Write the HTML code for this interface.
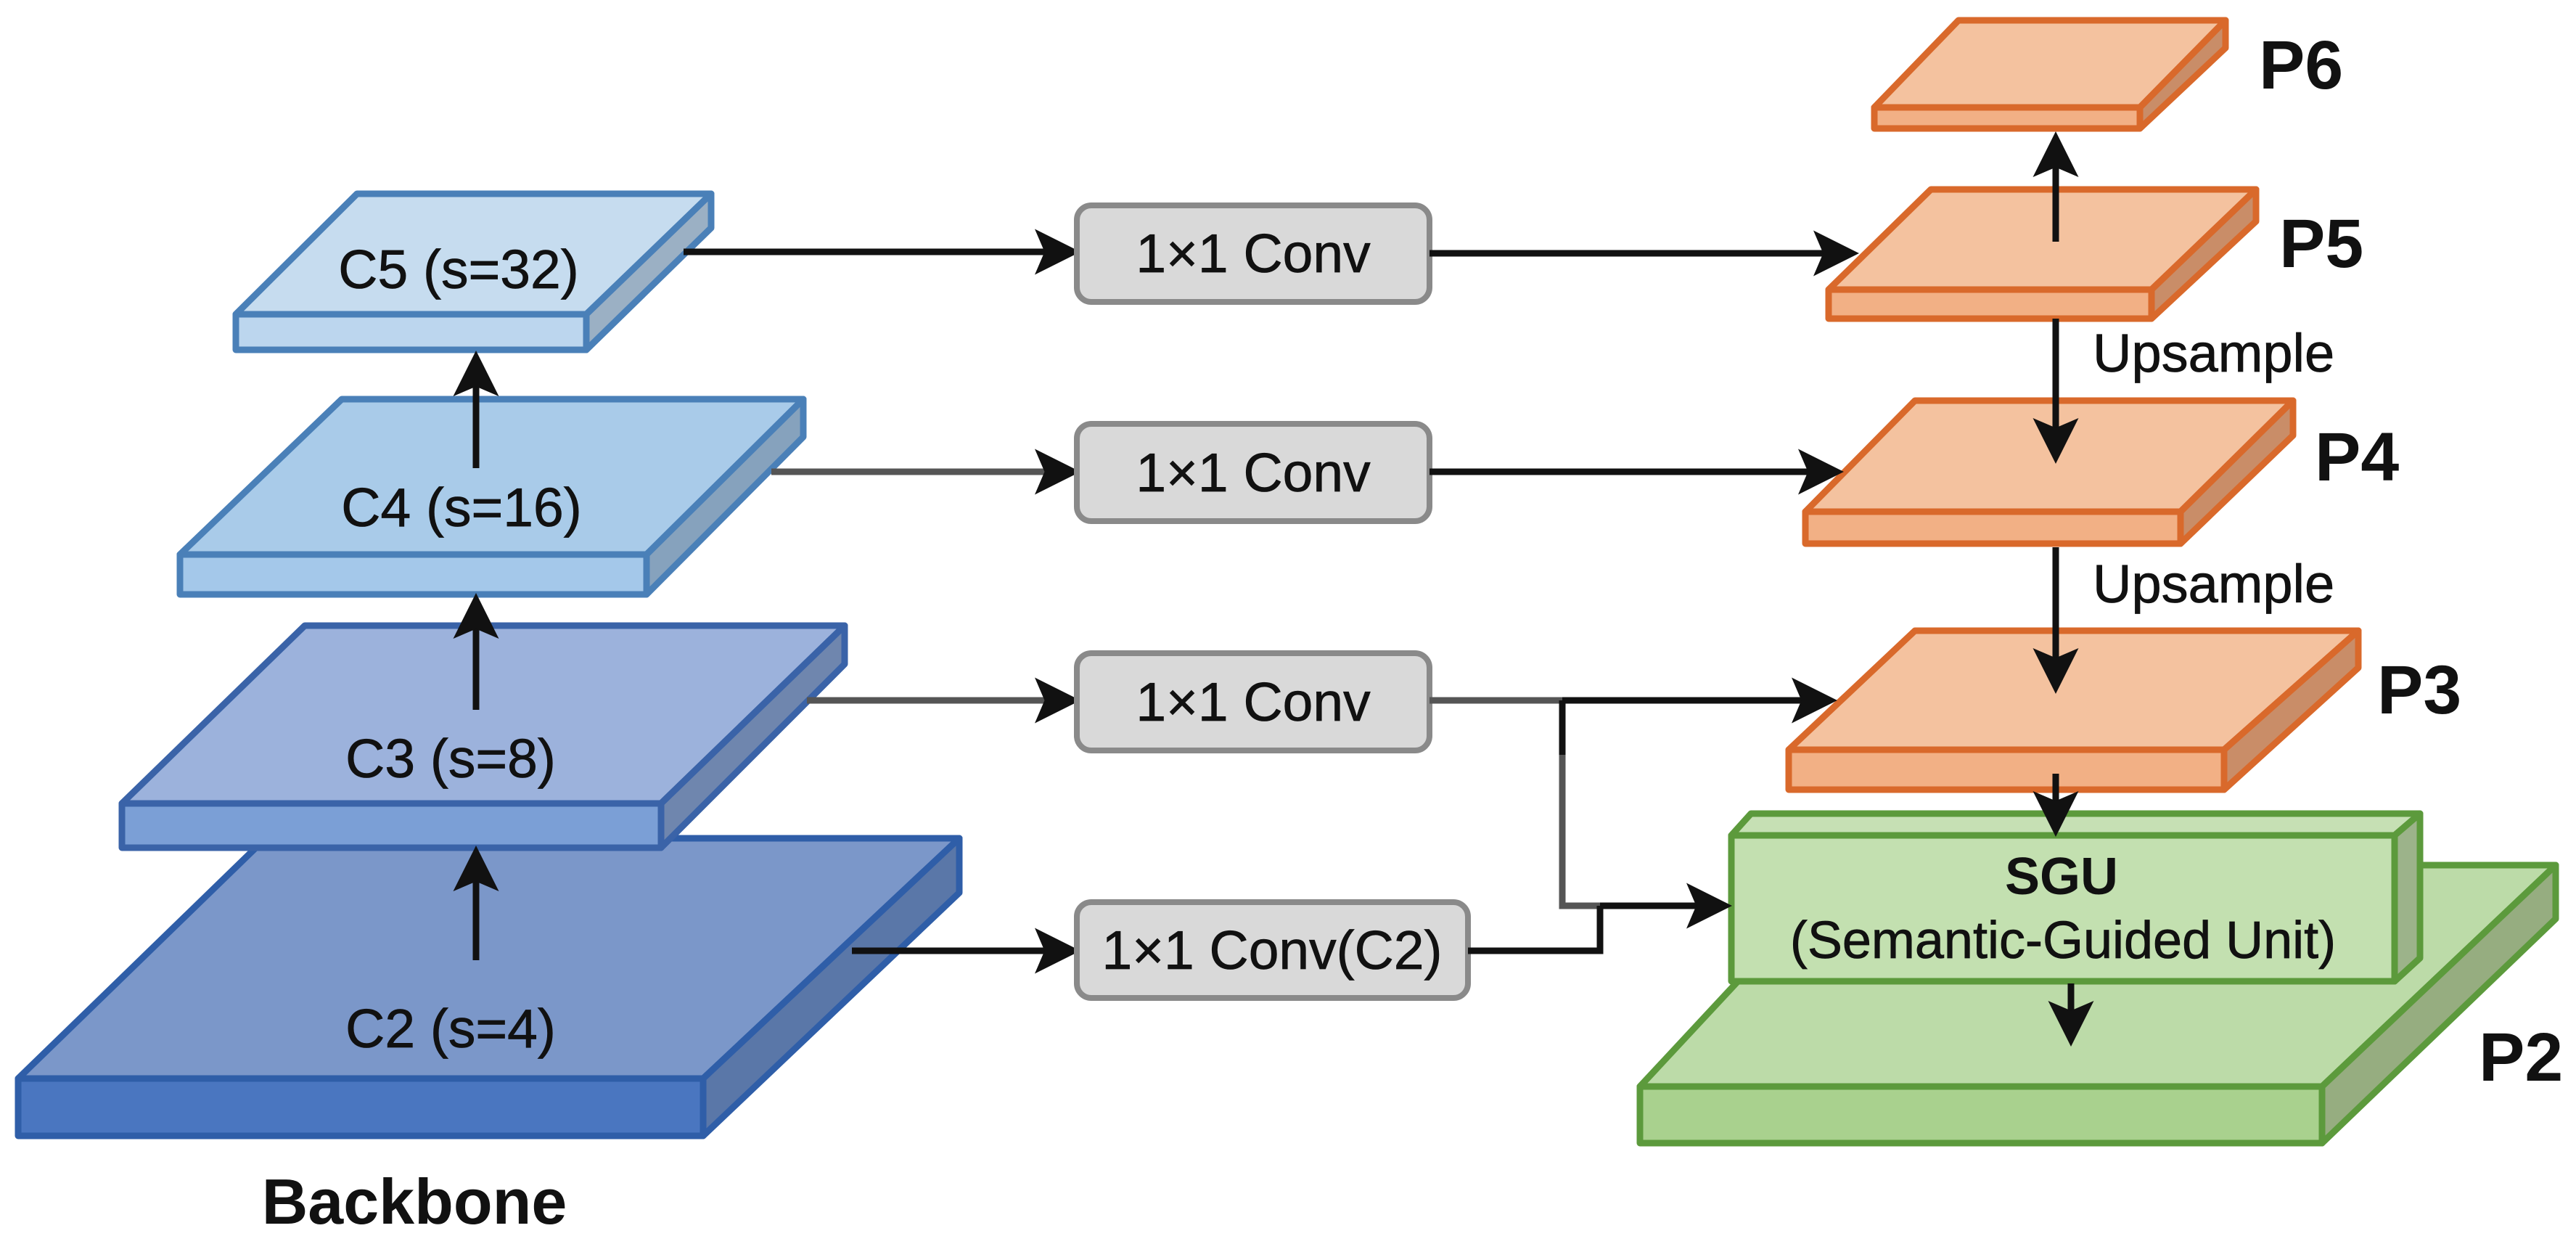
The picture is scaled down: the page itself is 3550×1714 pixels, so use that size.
<!DOCTYPE html>
<html><head><meta charset="utf-8"><style>
html,body{margin:0;padding:0;background:#fff}
svg{display:block}
text{font-family:"Liberation Sans",Arial,sans-serif}
</style></head><body>
<svg width="3550" height="1714" viewBox="0 0 3550 1714" xmlns="http://www.w3.org/2000/svg">
<defs>
<marker id="ah" markerWidth="7" markerHeight="7" refX="6" refY="3.5" orient="auto" markerUnits="strokeWidth">
<path d="M0,0 L7,3.5 L0,7 L1.5,3.5 Z" fill="#111"/>
</marker>
</defs>
<rect width="3550" height="1714" fill="#fff"/>

<!-- C2 -->
<g stroke="#2f5ea8" stroke-width="9" stroke-linejoin="round">
<polygon points="366,1155 1322,1155 969,1486 25,1486" fill="#7b97c9"/>
<polygon points="969,1486 1322,1155 1322,1230 969,1565" fill="#5a77a8"/>
<rect x="25" y="1486" width="944" height="79" fill="#4a76c0"/>
</g>
<!-- C3 -->
<g stroke="#3a63a8" stroke-width="9" stroke-linejoin="round">
<polygon points="420,862 1164,862 911,1107 168,1107" fill="#9cb2dc"/>
<polygon points="911,1107 1164,862 1164,915 911,1168" fill="#6f86ae"/>
<rect x="168" y="1107" width="743" height="61" fill="#7b9fd6"/>
</g>
<!-- C4 -->
<g stroke="#4a80b8" stroke-width="9" stroke-linejoin="round">
<polygon points="471,550 1107,550 891,764 248,764" fill="#a9cbe9"/>
<polygon points="891,764 1107,550 1107,602 891,819" fill="#86a2bd"/>
<rect x="248" y="764" width="643" height="55" fill="#a4c8ea"/>
</g>
<!-- C5 -->
<g stroke="#4a80b8" stroke-width="9" stroke-linejoin="round">
<polygon points="492,267 980,267 808,433 325,433" fill="#c6dcef"/>
<polygon points="808,433 980,267 980,314 808,482" fill="#9bb0c4"/>
<rect x="325" y="433" width="483" height="49" fill="#bcd6ee"/>
</g>

<g font-size="75" fill="#111" text-anchor="middle" stroke="#111" stroke-width="0.8">
<text x="632" y="397">C5 (s=32)</text>
<text x="636" y="725">C4 (s=16)</text>
<text x="621" y="1071">C3 (s=8)</text>
<text x="621" y="1443">C2 (s=4)</text>
</g>
<text x="571" y="1686" font-size="88" font-weight="bold" text-anchor="middle" fill="#111">Backbone</text>

<!-- vertical backbone arrows -->
<g stroke="#111" stroke-width="9" fill="none" marker-end="url(#ah)">
<line x1="656" y1="645" x2="656" y2="492"/>
<line x1="656" y1="978" x2="656" y2="826"/>
<line x1="656" y1="1323" x2="656" y2="1174"/>
</g>

<!-- lateral lines to conv boxes -->
<g stroke-width="9" fill="none" marker-end="url(#ah)">
<line x1="942" y1="347" x2="1480" y2="347" stroke="#111"/>
<line x1="1063" y1="650" x2="1480" y2="650" stroke="#555"/>
<line x1="1112" y1="965" x2="1480" y2="965" stroke="#555"/>
<line x1="1174" y1="1310" x2="1480" y2="1310" stroke="#111"/>
</g>

<!-- conv boxes -->
<g fill="#d9d9d9" stroke="#8a8a8a" stroke-width="8">
<rect x="1484" y="283" width="486" height="133" rx="20"/>
<rect x="1484" y="584" width="486" height="134" rx="20"/>
<rect x="1484" y="900" width="486" height="134" rx="20"/>
<rect x="1484" y="1243" width="539" height="132" rx="20"/>
</g>
<g font-size="75" fill="#111" text-anchor="middle" stroke="#111" stroke-width="0.8">
<text x="1727" y="375">1×1 Conv</text>
<text x="1727" y="677">1×1 Conv</text>
<text x="1727" y="993">1×1 Conv</text>
<text x="1753" y="1335">1×1 Conv(C2)</text>
</g>

<!-- P2 -->
<g stroke="#5c9a3c" stroke-width="9" stroke-linejoin="round">
<polygon points="2544,1192 3522,1192 3200,1497 2260,1497" fill="#bcdba8"/>
<polygon points="3200,1497 3522,1192 3522,1266 3200,1575" fill="#96ad80"/>
<rect x="2260" y="1497" width="940" height="78" fill="#a9d18e"/>
</g>
<!-- SGU -->
<g stroke="#5c9a3c" stroke-width="9" stroke-linejoin="round">
<polygon points="2413,1121 3335,1121 3300,1151 2386,1151" fill="#c6e0b4"/>
<polygon points="3300,1151 3335,1121 3335,1320 3300,1352" fill="#9cb38a"/>
<rect x="2386" y="1151" width="914" height="201" fill="#c3e0b0"/>
</g>
<text x="2841" y="1232" font-size="72" font-weight="bold" text-anchor="middle" fill="#111">SGU</text>
<text x="2843" y="1320" font-size="72" text-anchor="middle" fill="#111" stroke="#111" stroke-width="0.8">(Semantic-Guided Unit)</text>

<!-- P3 -->
<g stroke="#d9692b" stroke-width="9" stroke-linejoin="round">
<polygon points="2639,869 3250,869 3065,1033 2465,1033" fill="#f4c29f"/>
<polygon points="3065,1033 3250,869 3250,920 3065,1088" fill="#c98d68"/>
<rect x="2465" y="1033" width="600" height="55" fill="#f2b085"/>
</g>
<!-- P4 -->
<g stroke="#d9692b" stroke-width="9" stroke-linejoin="round">
<polygon points="2639,552 3160,552 3005,705 2488,705" fill="#f4c29f"/>
<polygon points="3005,705 3160,552 3160,600 3005,749" fill="#c98d68"/>
<rect x="2488" y="705" width="517" height="44" fill="#f2b085"/>
</g>
<!-- P5 -->
<g stroke="#d9692b" stroke-width="9" stroke-linejoin="round">
<polygon points="2661,261 3109,261 2965,399 2520,399" fill="#f4c29f"/>
<polygon points="2965,399 3109,261 3109,305 2965,439" fill="#c98d68"/>
<rect x="2520" y="399" width="445" height="40" fill="#f2b085"/>
</g>
<!-- P6 -->
<g stroke="#d9692b" stroke-width="9" stroke-linejoin="round">
<polygon points="2699,28 3067,28 2949,148 2583,148" fill="#f4c29f"/>
<polygon points="2949,148 3067,28 3067,66 2949,177" fill="#c98d68"/>
<rect x="2583" y="148" width="366" height="29" fill="#f2b085"/>
</g>

<g font-size="95" font-weight="bold" fill="#111">
<text x="3113" y="122">P6</text>
<text x="3141" y="368">P5</text>
<text x="3190" y="662">P4</text>
<text x="3276" y="983">P3</text>
<text x="3416" y="1489">P2</text>
</g>
<g font-size="74" fill="#111" stroke="#111" stroke-width="0.8">
<text x="2884" y="512">Upsample</text>
<text x="2884" y="830">Upsample</text>
</g>

<!-- conv to P arrows -->
<g stroke="#111" stroke-width="9" fill="none">
<line x1="1970" y1="349" x2="2553" y2="349" marker-end="url(#ah)"/>
<line x1="1970" y1="650" x2="2532" y2="650" marker-end="url(#ah)"/>
<polyline points="1970,965 2153,965" stroke="#555"/>
<line x1="2153" y1="965" x2="2523" y2="965" marker-end="url(#ah)"/>
<polyline points="2153,965 2153,1040"/>
<polyline points="2153,1040 2153,1248 2205,1248" stroke="#555"/>
<polyline points="2023,1310 2205,1310 2205,1248"/>
<line x1="2205" y1="1248" x2="2378" y2="1248" marker-end="url(#ah)"/>
<line x1="2833" y1="333" x2="2833" y2="190" marker-end="url(#ah)"/>
<line x1="2833" y1="439" x2="2833" y2="630" marker-end="url(#ah)"/>
<line x1="2833" y1="754" x2="2833" y2="947" marker-end="url(#ah)"/>
<line x1="2833" y1="1066" x2="2833" y2="1144" marker-end="url(#ah)"/>
<line x1="2854" y1="1355" x2="2854" y2="1433" marker-end="url(#ah)"/>
</g>
</svg>
</body></html>
